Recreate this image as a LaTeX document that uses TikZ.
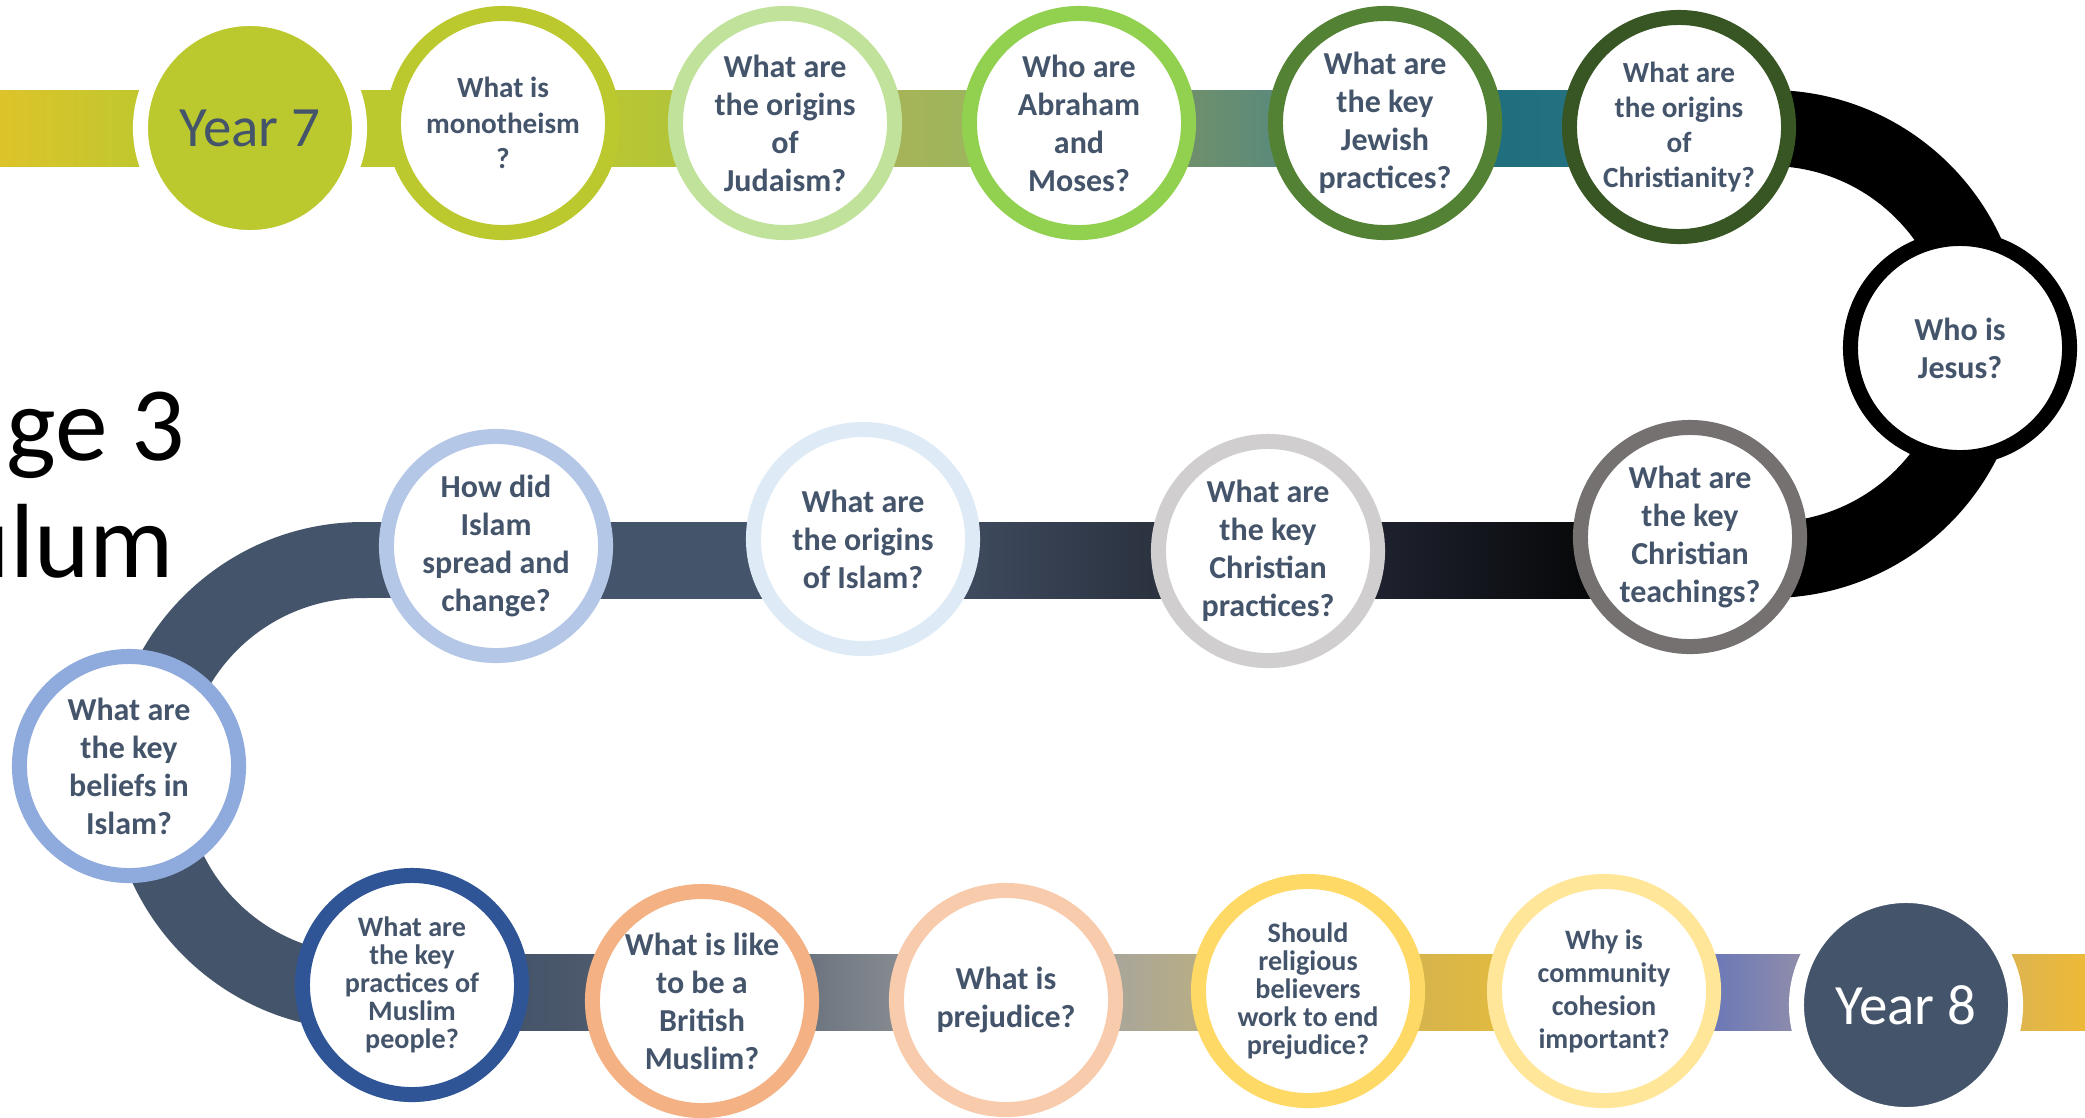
\documentclass[tikz,border=0pt]{standalone}
\usepackage{fontspec}
\setmainfont{Carlito}
\usetikzlibrary{backgrounds}

\definecolor{qtext}{HTML}{44546A}
\definecolor{slate}{HTML}{44546A}
% ring colours
\definecolor{lime}{HTML}{BBC92F}
\definecolor{palegreen}{HTML}{C0E29A}
\definecolor{brightgreen}{HTML}{92D050}
\definecolor{leaf}{HTML}{548235}
\definecolor{forest}{HTML}{375623}
\definecolor{stone}{HTML}{767171}
\definecolor{silver}{HTML}{D0CECE}
\definecolor{ice}{HTML}{DEEBF7}
\definecolor{sky}{HTML}{B4C7E7}
\definecolor{cornflower}{HTML}{8FAADC}
\definecolor{navy}{HTML}{2F5597}
\definecolor{apricot}{HTML}{F4B183}
\definecolor{peach}{HTML}{F8CBAD}
\definecolor{gold}{HTML}{FFD966}
\definecolor{cream}{HTML}{FFE699}
% band colours
\definecolor{b01}{HTML}{DDC32A}
\definecolor{b02}{HTML}{BEC82F}
\definecolor{b03}{HTML}{BAC731}
\definecolor{b04}{HTML}{B1C33A}
\definecolor{b05}{HTML}{A8B358}
\definecolor{b06}{HTML}{9BB55C}
\definecolor{b07}{HTML}{72906A}
\definecolor{b08}{HTML}{588A7D}
\definecolor{b09}{HTML}{1E6E7D}
\definecolor{b10}{HTML}{247282}
\definecolor{b11}{HTML}{202431}
\definecolor{b12}{HTML}{060708}
\definecolor{b13}{HTML}{3F4B5F}
\definecolor{b14}{HTML}{29303D}
\definecolor{b15}{HTML}{4F5A6C}
\definecolor{b16}{HTML}{68717D}
\definecolor{b17}{HTML}{8A8E93}
\definecolor{b18}{HTML}{A6A59D}
\definecolor{b19}{HTML}{BAAE82}
\definecolor{b20}{HTML}{D5B34F}
\definecolor{b21}{HTML}{E2BB3D}
\definecolor{b22}{HTML}{6676B9}
\definecolor{b23}{HTML}{938FA9}
\definecolor{b24}{HTML}{DBB452}
\definecolor{b25}{HTML}{EDB937}

\tikzset{
  ring/.style={circle, draw=#1, line width=0.15cm, fill=white, minimum size=2.19cm,
    inner sep=0pt, align=center, text=qtext},
  yearbox/.style={circle, draw=white, line width=0.15cm, fill=#1, minimum size=2.19cm,
    inner sep=0pt, font=\fontsize{16.2}{19}\selectfont},
  qbig/.style={font=\bfseries\fontsize{9.1}{10.8}\selectfont},
  qmid/.style={font=\bfseries\fontsize{8.3}{10}\selectfont},
  qtight/.style={font=\bfseries\fontsize{8}{8}\selectfont},
  qloose/.style={font=\bfseries\fontsize{8}{9.4}\selectfont},
  titletext/.style={anchor=base west, inner sep=0pt, font=\fontsize{30}{36}\selectfont}
}

\begin{document}
\begin{tikzpicture}[x=0.01cm, y=-0.01cm]
  \useasboundingbox (0,0) rectangle (2085,1117);
  % title, cut by the left edge
  \node[titletext] (stage) at (6,460) {ge 3};
  \node[titletext] (curric) at (-46,577) {ulum};
  % top row
  \node[yearbox=lime, text=slate] (y7) at (250,128) {Year 7};
  \node[ring=lime, qmid] (q1) at (503,123) {What is\\monotheism\\?};
  \node[ring=palegreen, qbig] (q2) at (785,123) {What are\\the origins\\of\\Judaism?};
  \node[ring=brightgreen, qbig] (q3) at (1079,123) {Who are\\Abraham\\and\\Moses?};
  \node[ring=leaf, qbig] (q4) at (1385,123) {What are\\the key\\Jewish\\practices?};
  \node[ring=forest, qmid] (q5) at (1679,127) {What are\\the origins\\of\\Christianity?};
  % bend on the right
  \node[ring=black, qbig] (q6) at (1960,348) {Who is\\Jesus?};
  % middle row
  \node[ring=stone, qbig] (q7) at (1690,537) {What are\\the key\\Christian\\teachings?};
  \node[ring=silver, qbig] (q8) at (1268,551) {What are\\the key\\Christian\\practices?};
  \node[ring=ice, qbig] (q9) at (863,539) {What are\\the origins\\of Islam?};
  \node[ring=sky, qbig] (q10) at (496,546) {How did\\Islam\\spread and\\change?};
  % bend on the left
  \node[ring=cornflower, qbig] (q11) at (129,766) {What are\\the key\\beliefs in\\Islam?};
  % bottom row
  \node[ring=navy, qtight] (q12) at (412,985) {What are\\the key\\practices of\\Muslim\\people?};
  \node[ring=apricot, qbig] (q13) at (702,1001) {What is like\\to be a\\British\\Muslim?};
  \node[ring=peach, qbig] (q14) at (1006,1000) {What is\\prejudice?};
  \node[ring=gold, qtight] (q15) at (1308,991) {Should\\religious\\believers\\work to end\\prejudice?};
  \node[ring=cream, qloose] (q16) at (1604,991) {Why is\\community\\cohesion\\important?};
  \node[yearbox=slate, text=white] (y8) at (1906,1005) {Year 8};

  \coordinate (start) at (0,128);
  \coordinate (rtop) at (1770,128);
  \coordinate (rc) at (1770,344);
  \coordinate (rmid) at (1770,560);
  \coordinate (lmid) at (363,560);
  \coordinate (lc) at (363,776);
  \coordinate (lbot) at (363,992);
  \coordinate (finish) at (2085,992);

  \begin{scope}[on background layer]
    \fill[white] (0,0) rectangle (2085,1117);
    \foreach \a/\b/\ya/\yb/\ca/\cb in {
        y7/q1/90/166/lime/lime, q1/q2/90/166/b03/b04, q2/q3/90/166/b05/b06,
        q3/q4/90/166/b07/b08, q4/q5/90/166/b09/b10,
        q10/q9/522/598/slate/slate, q9/q8/522/598/b13/b14, q8/q7/522/598/b11/b12,
        q12/q13/954/1030/slate/b15, q13/q14/954/1030/b16/b17, q14/q15/954/1030/b18/b19,
        q15/q16/954/1030/b20/b21, q16/y8/954/1030/b22/b23}
      \shade[left color=\ca, right color=\cb] (\a.35 |- 0,\ya) rectangle (\b.145 |- 0,\yb);
    \shade[left color=b01, right color=b02] (start |- 0,90) rectangle (y7.145 |- 0,166);
    \fill[black] (q5.35 |- 0,90) rectangle (rtop |- 0,166);
    \fill[black] (q7.35 |- 0,522) rectangle (rmid |- 0,598);
    \fill[slate] (lmid |- 0,522) rectangle (q10.145 |- 0,598);
    \fill[slate] (lbot |- 0,954) rectangle (q12.145 |- 0,1030);
    \shade[left color=b24, right color=b25] (y8.35 |- 0,954) rectangle (finish |- 0,1030);
    % the two bends
    \begin{scope}
      \clip (1766,0) rectangle (2085,700);
      \fill[black, even odd rule] (rc) circle[radius=254] (rc) circle[radius=178];
    \end{scope}
    \begin{scope}
      \clip (0,450) rectangle (367,1117);
      \fill[slate, even odd rule] (lc) circle[radius=254] (lc) circle[radius=178];
    \end{scope}
  \end{scope}
\end{tikzpicture}
\end{document}
